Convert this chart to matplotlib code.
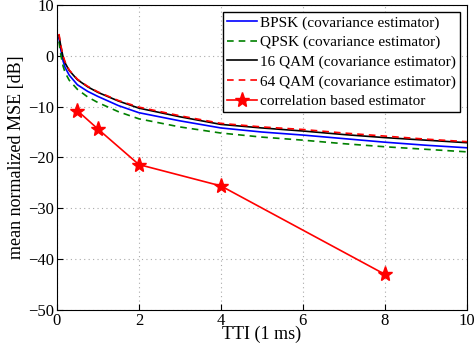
import numpy as np
import matplotlib
matplotlib.use("Agg")
import matplotlib.pyplot as plt

plt.rcParams['font.family'] = ['Liberation Serif', 'DejaVu Serif']

# covariance estimator curves
tti = [0.05, 0.1, 0.15, 0.2, 0.3, 0.5, 0.75, 1, 1.5, 2, 3, 4, 5, 6, 7, 8, 9, 10]
bpsk = [3.5, 1.0, -1.0, -2.3, -3.8, -5.7, -7.0, -8.0, -9.8, -11.2, -12.8,
        -14.2, -15.0, -15.6, -16.3, -17.0, -17.6, -18.1]
qpsk = [2.8, 0.0, -2.0, -3.3, -4.8, -6.6, -8.1, -9.2, -11.0, -12.4, -14.0,
        -15.2, -16.0, -16.6, -17.3, -17.9, -18.4, -18.9]
qam16 = [4.0, 1.7, -0.2, -1.4, -2.9, -4.7, -6.1, -7.2, -8.9, -10.3, -12.0,
         -13.5, -14.2, -14.8, -15.5, -16.1, -16.6, -17.1]
qam64 = [4.3, 1.9, 0.0, -1.2, -2.8, -4.6, -6.0, -7.1, -8.8, -10.1, -11.8,
         -13.3, -14.0, -14.5, -15.2, -15.8, -16.4, -16.9]

# correlation based estimator
tti_corr = [0.5, 1, 2, 4, 8]
corr = [-10.8, -14.4, -21.4, -25.6, -43.0]

labels = ['BPSK (covariance estimator)', 'QPSK (covariance estimator)',
          '16 QAM (covariance estimator)', '64 QAM (covariance estimator)',
          'correlation based estimator']

fig = plt.figure(figsize=(4.74, 3.53), dpi=100)
ax = fig.add_axes([0.120, 0.122, 0.865, 0.864])

ax.plot(tti, bpsk, color='blue', lw=1.2, label=labels[0])
ax.plot(tti, qpsk, color='green', lw=1.2, ls=(0, (4, 3)), label=labels[1])
ax.plot(tti, qam16, color='black', lw=1.2, label=labels[2])
ax.plot(tti, qam64, color='red', lw=1.2, ls=(0, (4, 3)), label=labels[3])
ax.plot(tti_corr, corr, color='red', lw=1.2, marker='*', ms=11,
        mfc='red', mec='red', mew=1.0, label=labels[4])

ax.set_xlim(0, 10)
ax.set_ylim(-50, 10)
ax.set_xticks([0, 2, 4, 6, 8, 10])
ax.set_yticks([-50, -40, -30, -20, -10, 0, 10])
ax.set_yticklabels(['\u221250', '\u221240', '\u221230', '\u221220', '\u221210', '0', '10'])
ax.grid(True, ls=(0, (1, 3)), color='#aaaaaa', lw=0.8)
ax.tick_params(direction='in', labelsize=12, length=4, width=0.8, pad=2)
for s in ax.spines.values():
    s.set_linewidth(0.8)

ax.set_xlabel('TTI (1 ms)', fontsize=13, labelpad=-2)
ax.set_ylabel('mean normalized MSE [dB]', fontsize=13, labelpad=2)

leg = ax.legend(loc='upper right', fontsize=11, frameon=True, fancybox=False,
                edgecolor='black', framealpha=1, handlelength=2.0,
                handletextpad=0.2, borderpad=0.25, labelspacing=0.38,
                borderaxespad=0.45)
leg.get_frame().set_linewidth(1.0)

fig.savefig('out.png', dpi=100)
